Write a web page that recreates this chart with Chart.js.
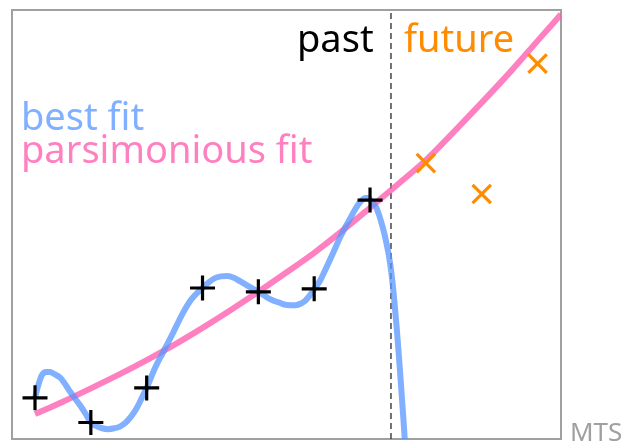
<!DOCTYPE html>
<html><head><meta charset="utf-8">
<script src="https://cdn.jsdelivr.net/npm/chart.js@4"></script>
<style>html,body{margin:0;padding:0;background:#fff;}#wrap{width:626px;height:441px;}</style>
</head><body><div id="wrap"><canvas id="c" width="626" height="441"></canvas></div>
<script>
// ---- data ----
const pastX = [1, 2, 3, 4, 5, 6, 7];
const pastY = [9.6, 3.85, 11.9, 35.2, 34.3, 35.0, 55.7];
const futureX = [8, 9, 10];
const futureY = [64.3, 57.1, 87.5];

const blueX = [1.0, 1.06, 1.125, 1.2, 1.27, 1.35, 1.45, 1.55, 1.63, 1.72, 1.81, 1.9, 2.0,
  2.1, 2.2, 2.31, 2.42, 2.52, 2.62, 2.7, 2.78, 2.85, 2.92, 3.0, 3.11, 3.2, 3.29, 3.38, 3.47,
  3.56, 3.65, 3.73, 3.81, 3.9, 4.0, 4.1, 4.22, 4.33, 4.44, 4.56, 4.67, 4.76, 4.85, 4.93, 5.0,
  5.1, 5.21, 5.3, 5.39, 5.48, 5.57, 5.66, 5.75, 5.82, 5.88, 5.94, 6.0, 6.1, 6.19, 6.28, 6.37,
  6.46, 6.55, 6.64, 6.71, 6.78, 6.85, 6.91, 6.96, 7.0, 7.05, 7.11, 7.16, 7.2, 7.25, 7.29, 7.33,
  7.36, 7.4, 7.44, 7.48, 7.52, 7.56, 7.6, 7.64];
const blueY = [9.6, 12.6, 14.9, 15.6, 15.6, 15.1, 14.3, 12.6, 11.0, 9.4, 7.8, 6.0, 3.85,
  3.0, 2.5, 2.3, 2.5, 2.9, 3.8, 4.9, 6.3, 7.9, 9.8, 11.9, 15.4, 17.9, 20.1, 22.4, 24.7,
  27.1, 29.4, 31.2, 32.7, 34.0, 35.2, 36.4, 37.5, 37.9, 38.0, 37.6, 36.8, 36.1, 35.4, 34.8, 34.3,
  33.5, 32.6, 32.1, 31.7, 31.3, 31.2, 31.2, 31.5, 32.0, 32.8, 33.8, 35.0, 36.8, 39.2, 41.7, 44.3,
  46.9, 49.2, 51.3, 53.0, 54.5, 55.6, 56.2, 56.2, 55.8, 55.0, 54.0, 52.3, 50.6, 48.2, 45.9, 43.3,
  40.9, 36.8, 31.5, 25.5, 18.8, 11.6, 4.2, -3.5];

const pinkX = [1, 1.5, 2, 2.5, 3, 3.5, 4, 4.5, 5, 5.5, 6, 6.5, 7, 7.5, 8, 8.5, 9, 9.5, 10, 10.42];
const pinkY = [5.8, 8.7, 11.8, 15.0, 18.4, 22.0, 25.9, 30.0, 34.3, 38.8, 43.4, 48.5, 53.9, 59.4, 65.0, 71.6, 78.4, 85.4, 92.8, 99.0];

const splitX = 7.375;
const xRange = [0.588, 10.42];
const yRange = [0, 100];

const labelPast = 'past', labelFuture = 'future';
const labelBest = 'best fit', labelPars = 'parsimonious fit';
const watermark = 'MTS';

// ---- colours ----
const BLUE = 'rgba(86,150,255,0.75)';
const PINK = 'rgba(255,86,171,0.75)';
const ORANGE = '#ff8c00';

const pts = (xs, ys) => xs.map((x, i) => ({x, y: ys[i]}));

const frame = {
  id: 'frame',
  beforeDatasetsDraw(chart) {
    const a = chart.chartArea, c = chart.ctx;
    c.save();
    c.strokeStyle = '#a0a0a0';
    c.lineWidth = 2;
    c.strokeRect(a.left, a.top, a.right - a.left, a.bottom - a.top);
    c.restore();
  },
  afterDatasetsDraw(chart) {
    const c = chart.ctx;
    c.save();
    c.textBaseline = 'alphabetic';
    c.textAlign = 'left';
    c.font = '38px "Noto Sans"';
    c.fillStyle = '#000';
    c.fillText(labelPast, 297, 52);
    c.fillStyle = ORANGE;
    c.fillText(labelFuture, 404, 52);
    c.fillStyle = '#80b0ff';
    c.fillText(labelBest, 21, 130);
    c.fillStyle = '#ff80c0';
    c.fillText(labelPars, 21, 163);
    c.font = '26px "Noto Sans"';
    c.fillStyle = '#a0a0a0';
    c.fillText(watermark, 570, 441);
    c.restore();
  }
};

new Chart(document.getElementById('c'), {
  type: 'scatter',
  data: {
    datasets: [
      {data: pts(pastX, pastY), showLine: false, pointStyle: 'cross', pointRadius: 12.5,
       pointBorderWidth: 3.2, pointBorderColor: '#000', borderColor: '#000', order: 0},
      {data: pts(futureX, futureY), showLine: false, pointStyle: 'crossRot', pointRadius: 13,
       pointBorderWidth: 3.2, pointBorderColor: ORANGE, borderColor: ORANGE, order: 1},
      {data: pts(blueX, blueY), showLine: true, pointRadius: 0, borderWidth: 6,
       borderColor: BLUE, cubicInterpolationMode: 'monotone', order: 2},
      {data: pts(pinkX, pinkY), showLine: true, pointRadius: 0, borderWidth: 6,
       borderColor: PINK, cubicInterpolationMode: 'monotone', order: 3},
      {data: [{x: splitX, y: yRange[0]}, {x: splitX, y: yRange[1]}], showLine: true, pointRadius: 0,
       borderWidth: 1.5, borderColor: '#444', borderDash: [6, 4], order: 4}
    ]
  },
  options: {
    responsive: false,
    animation: false,
    events: [],
    layout: {autoPadding: false, padding: {left: 12, top: 10, right: 65, bottom: 2}},
    scales: {
      x: {type: 'linear', min: xRange[0], max: xRange[1], display: false},
      y: {type: 'linear', min: yRange[0], max: yRange[1], display: false}
    },
    plugins: {legend: {display: false}, tooltip: {enabled: false}}
  },
  plugins: [frame]
});
</script>
</body></html>
